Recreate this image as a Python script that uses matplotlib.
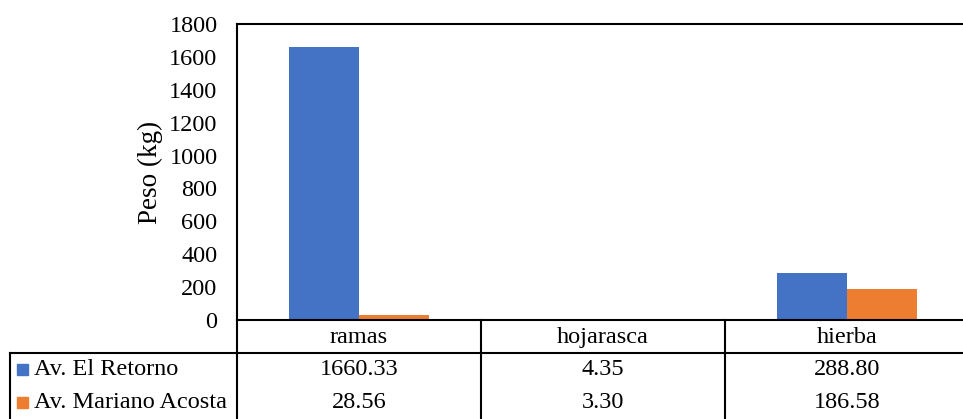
import matplotlib.pyplot as plt
import matplotlib.transforms as mtransforms
from matplotlib.lines import Line2D
import numpy as np

# Datos
categorias = ['ramas', 'hojarasca', 'hierba']
series = ['Av. El Retorno', 'Av. Mariano Acosta']
el_retorno = [1660.33, 4.35, 288.80]
mariano_acosta = [28.56, 3.30, 186.58]
colores = ['#4472C4', '#ED7D31']

plt.rcParams['font.family'] = ['Liberation Serif', 'DejaVu Serif']
fs = 17.5

W, H = 963, 419
fig = plt.figure(figsize=(W / 100, H / 100), dpi=100)

# Area del grafico (px de la imagen)
x0, x1 = 237, 969
y_top, y_bot = 24, 320
ax = fig.add_axes([x0 / W, 1 - y_bot / H, (x1 - x0) / W, (y_bot - y_top) / H])

x = np.arange(len(categorias)) + 0.5
w = 0.287
valores = [el_retorno, mariano_acosta]
for i, vals in enumerate(valores):
    ax.bar(x + (i - 0.5) * w, vals, width=w, color=colores[i], align='center')

ax.set_xlim(0, len(categorias))
ax.set_ylim(0, 1800)
ax.set_yticks(range(0, 1801, 200))
ax.set_xticks([])
ax.tick_params(axis='y', length=0, labelsize=fs, pad=14)
for s in ['left', 'top', 'bottom']:
    ax.spines[s].set_linewidth(1.5)
    ax.spines[s].set_color('black')
ax.spines['right'].set_visible(False)
ax.set_ylabel('Peso (kg)', fontsize=19.5)
ax.yaxis.set_label_coords(-0.101, 0.5)

# Tabla de datos
def fy(py):
    return 1 - py / H

def fx(px):
    return px / W

lw = 1.5
row_y = [320, 353, 386, 419]
fig.add_artist(Line2D([fx(10), 1.01], [fy(353), fy(353)], color='black', lw=lw))
fig.add_artist(Line2D([fx(10), fx(10)], [fy(353), fy(420)], color='black', lw=lw))
for j in range(len(categorias)):
    px = x0 + j * (x1 - x0) / len(categorias)
    fig.add_artist(Line2D([fx(px), fx(px)], [fy(320), fy(420)], color='black', lw=lw))

trans = mtransforms.blended_transform_factory(ax.transData, fig.transFigure)
for j, cat in enumerate(categorias):
    fig.text(x[j], fy(337), cat, transform=trans, ha='center', va='center', fontsize=fs)
    for i, vals in enumerate(valores):
        yc = (row_y[i + 1] + row_y[i + 2]) / 2
        fig.text(x[j], fy(yc), f'{vals[j]:.2f}', transform=trans,
                 ha='center', va='center', fontsize=fs)

for i, nombre in enumerate(series):
    yc = (row_y[i + 1] + row_y[i + 2]) / 2
    fig.patches.append(plt.Rectangle((fx(17), fy(yc + 5.5)), 11 / W, 11 / H,
                                     transform=fig.transFigure, color=colores[i]))
    fig.text(fx(34), fy(yc), nombre, ha='left', va='center', fontsize=fs)

fig.savefig('out.png', dpi=100)
